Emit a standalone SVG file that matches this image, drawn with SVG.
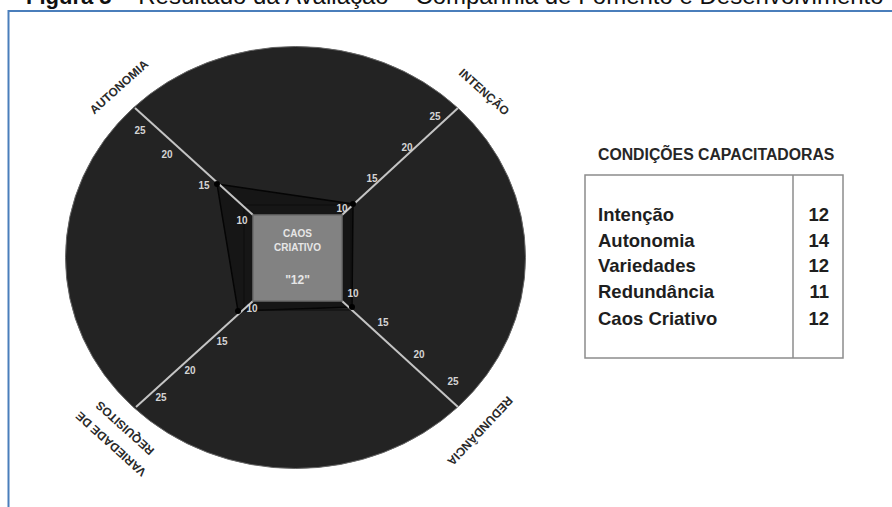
<svg xmlns="http://www.w3.org/2000/svg" width="892" height="507" viewBox="0 0 892 507">
<style>
.tick{font-family:"Liberation Sans",Arial,sans-serif;font-size:10px;font-weight:bold;fill:#d4d4d4;text-anchor:middle}
.axlab{font-family:"Liberation Sans",Arial,sans-serif;font-size:12px;font-weight:bold;fill:#2a2a2a;text-anchor:middle}
.axis{stroke:#c4c4c4;stroke-width:2;fill:none}
.boxt{font-family:"Liberation Sans",Arial,sans-serif;font-weight:bold;fill:#e6e6e6;text-anchor:middle}
.row{font-family:"Liberation Sans",Arial,sans-serif;font-size:18.5px;font-weight:bold;fill:#1e1e1e}
.num{font-family:"Liberation Sans",Arial,sans-serif;font-size:18.5px;font-weight:bold;fill:#1e1e1e;text-anchor:end}
</style>
<rect width="892" height="507" fill="#ffffff"/>
<g id="title">
<text x="26" y="4" font-family="'Liberation Sans',Arial,sans-serif" font-size="22" fill="#111"><tspan font-weight="bold">Figura 5</tspan><tspan font-size="24"> – Resultado da Avaliação – Companhia de Fomento e Desenvolvimento</tspan></text>
</g>
<g id="frame">
<path d="M8.5,507 V11 H892" fill="none" stroke="#4a7ebb" stroke-width="2"/>
</g>
<g id="radar">
<ellipse cx="295.5" cy="257.5" rx="230" ry="211" fill="#232323" stroke="#666" stroke-width="1"/>
<polygon points="217,184 353,204 352,307 238,311" fill="#161616" stroke="#050505" stroke-width="1.5"/>
<rect x="244" y="205" width="107" height="105" fill="none" stroke="#0c0c0c" stroke-width="1"/>
</g>
<g id="connectors">
<line class="axis" x1="253" y1="215" x2="135" y2="108"/>
<line class="axis" x1="342" y1="215" x2="458" y2="108"/>
<line class="axis" x1="342" y1="301" x2="458" y2="407"/>
<line class="axis" x1="253" y1="301" x2="136" y2="407"/>
</g>
<g id="points" fill="#000">
<circle cx="217" cy="184" r="3"/>
<circle cx="353" cy="204" r="3"/>
<circle cx="352" cy="307" r="3"/>
<circle cx="238" cy="311" r="3"/>
</g>
<g id="caos-criativo">
<rect x="253" y="215" width="89" height="86" fill="#828282" stroke="#6c6c6c" stroke-width="1.5"/>
<text class="boxt" x="297.5" y="237" font-size="10">CAOS</text>
<text class="boxt" x="297.5" y="250.5" font-size="10">CRIATIVO</text>
<text class="boxt" x="297.5" y="284" font-size="12">"12"</text>
</g>
<g id="ticks">
<text class="tick" x="140" y="133.5">25</text>
<text class="tick" x="167" y="157.5">20</text>
<text class="tick" x="204" y="188.5">15</text>
<text class="tick" x="242" y="223.5">10</text>
<text class="tick" x="435" y="119.5">25</text>
<text class="tick" x="407" y="150.5">20</text>
<text class="tick" x="372" y="181.5">15</text>
<text class="tick" x="342" y="211.5">10</text>
<text class="tick" x="353" y="296.5">10</text>
<text class="tick" x="383" y="325.5">15</text>
<text class="tick" x="419" y="357.5">20</text>
<text class="tick" x="453" y="384.5">25</text>
<text class="tick" x="252" y="311.5">10</text>
<text class="tick" x="222" y="344.5">15</text>
<text class="tick" x="190" y="373.5">20</text>
<text class="tick" x="161" y="400.5">25</text>
</g>
<g id="axis-autonomia"><text class="axlab" transform="translate(119,87) rotate(-42)" x="0" y="4">AUTONOMIA</text></g>
<g id="axis-intencao"><text class="axlab" transform="translate(484,92) rotate(42)" x="0" y="4">INTENÇÃO</text></g>
<g id="axis-redundancia"><text class="axlab" transform="translate(480,431) rotate(133)" x="0" y="4">REDUNDÂNCIA</text></g>
<g id="axis-variedade">
<text class="axlab" transform="translate(111,444) rotate(-138)" x="0" y="4">VARIEDADE DE</text>
<text class="axlab" transform="translate(125,428) rotate(-138)" x="0" y="4">REQUISITOS</text>
</g>
<g id="table">
<text x="598" y="160" font-family="'Liberation Sans',Arial,sans-serif" font-size="15.8" font-weight="bold" fill="#262626">CONDIÇÕES CAPACITADORAS</text>
<rect x="585" y="175" width="258" height="183" fill="#fff" stroke="#8c8c8c" stroke-width="1.5"/>
<line x1="793" y1="175" x2="793" y2="358" stroke="#8c8c8c" stroke-width="1.5"/>
<text class="row" x="598" y="221">Intenção</text>
<text class="row" x="598" y="246.5">Autonomia</text>
<text class="row" x="598" y="272">Variedades</text>
<text class="row" x="598" y="298">Redundância</text>
<text class="row" x="598" y="324.5">Caos Criativo</text>
<text class="num" x="829" y="221">12</text>
<text class="num" x="829" y="246.5">14</text>
<text class="num" x="829" y="272">12</text>
<text class="num" x="829" y="298">11</text>
<text class="num" x="829" y="324.5">12</text>
</g>
</svg>
